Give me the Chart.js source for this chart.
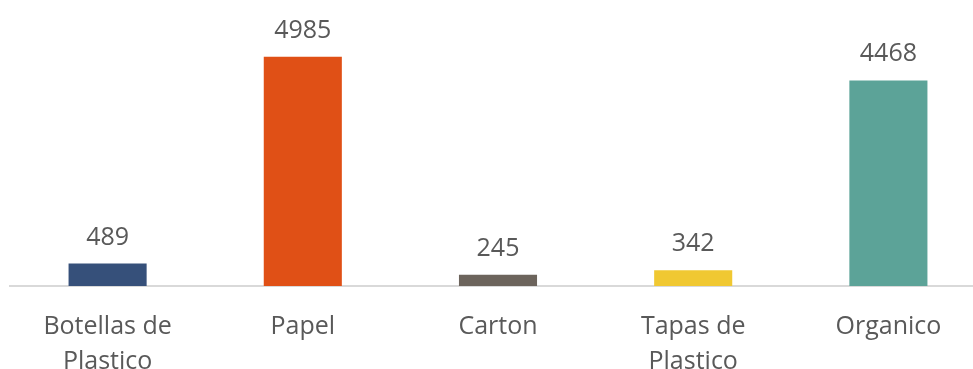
<!DOCTYPE html>
<html>
<head>
<meta charset="utf-8">
<script src="https://cdn.jsdelivr.net/npm/chart.js@4/dist/chart.umd.min.js"></script>
<style>
  html, body { margin: 0; padding: 0; background: #fff; overflow: hidden; }
  #wrap { position: absolute; left: 0; top: 0; width: 986px; height: 402px; }
</style>
</head>
<body>
<div id="wrap"><canvas id="chart"></canvas></div>
<script>
  const categories = [['Botellas de', 'Plastico'], 'Papel', 'Carton', ['Tapas de', 'Plastico'], 'Organico'];
  const values = [489, 4985, 245, 342, 4468];
  const barColors = ['#36507a', '#e05016', '#6c645c', '#f0c832', '#5ca398'];

  const textColor = '#595959';
  const fontFamily = "'Open Sans', 'Liberation Sans', sans-serif";

  const valueLabels = {
    id: 'valueLabels',
    afterDatasetsDraw(chart) {
      const ctx = chart.ctx;
      const meta = chart.getDatasetMeta(0);
      ctx.save();
      ctx.fillStyle = textColor;
      ctx.font = `25px ${fontFamily}`;
      ctx.textAlign = 'center';
      ctx.textBaseline = 'alphabetic';
      meta.data.forEach((bar, i) => {
        ctx.fillText(String(values[i]), bar.x, bar.y - 19);
      });
      ctx.restore();
    },
  };

  new Chart(document.getElementById('chart'), {
    type: 'bar',
    data: {
      labels: categories,
      datasets: [{
        data: values,
        backgroundColor: barColors,
        borderWidth: 0,
        barPercentage: 0.4,
        categoryPercentage: 1,
      }],
    },
    options: {
      responsive: true,
      maintainAspectRatio: false,
      animation: false,
      layout: { padding: { left: 10, right: 0, top: 10, bottom: 0 } },
      plugins: { legend: { display: false }, tooltip: { enabled: false } },
      scales: {
        x: {
          grid: { display: false, drawTicks: false },
          border: { display: true, color: '#d9d9d9', width: 2 },
          ticks: {
            color: textColor,
            padding: 23,
            maxRotation: 0,
            autoSkip: false,
            font: { family: fontFamily, size: 25, lineHeight: 1.4 },
          },
        },
        y: {
          display: false,
          min: 0,
          max: 6000,
        },
      },
    },
    plugins: [valueLabels],
  });
</script>
</body>
</html>
